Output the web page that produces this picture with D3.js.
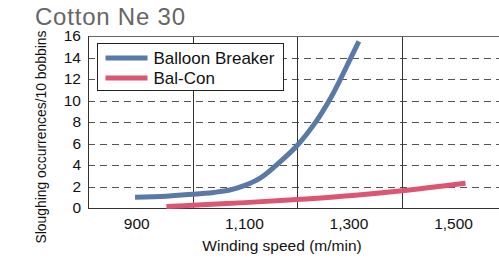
<!DOCTYPE html>
<html>
<head>
<meta charset="utf-8">
<script src="https://cdn.jsdelivr.net/npm/d3@7"></script>
<style>
    body { margin: 0; background: #fff; }
    svg { display: block; font-family: "Liberation Sans", Arial, sans-serif; }
    .axis path { display: none; }
    .axis text { fill: #111; }
</style>
</head>
<body>
<div id="chart"></div>
<script>
// values
const xTicks = [900, 1100, 1300, 1500];
const xGrid = [1000, 1200, 1400];
const yTicks = [0, 2, 4, 6, 8, 10, 12, 14, 16];
const yGrid = [2, 4, 6, 8, 10, 12, 14];

const balloonSpeed = [890, 950, 1000, 1040, 1071, 1100, 1130, 1157, 1200, 1237, 1261, 1281, 1300, 1318];
const balloonValue = [1.0, 1.1, 1.27, 1.45, 1.67, 2.1, 2.8, 3.85, 5.81, 8.1, 9.97, 11.81, 13.71, 15.5];
const balconSpeed = [950, 1000, 1100, 1200, 1300, 1400, 1522];
const balconValue = [0.15, 0.25, 0.5, 0.8, 1.15, 1.6, 2.3];

const seriesNames = ["Balloon Breaker", "Bal-Con"];
const seriesColors = ["#5a79a6", "#dc5571"];

const width = 499, height = 259;
const margin = { top: 36, right: 0, bottom: 51, left: 88 };
const innerW = width - margin.left - margin.right;
const innerH = height - margin.top - margin.bottom;

const svg = d3.select("#chart").append("svg")
    .attr("width", width)
    .attr("height", height);

// title
svg.append("text")
    .attr("x", 35)
    .attr("y", 25)
    .attr("font-size", 24)
    .attr("fill", "#666")
    .attr("textLength", 150)
    .text("Cotton Ne 30");

const g = svg.append("g").attr("transform", `translate(${margin.left},${margin.top})`);

const x = d3.scaleLinear().domain([800, 1586]).range([0, innerW]);
const y = d3.scaleLinear().domain([0, 16]).range([innerH, 0]);

// dashed grid
g.selectAll(".hgrid")
    .data(yGrid)
    .join("line")
    .attr("class", "hgrid")
    .attr("x1", 0)
    .attr("x2", innerW)
    .attr("y1", d => Math.round(y(d)) + 0.5)
    .attr("y2", d => Math.round(y(d)) + 0.5)
    .attr("stroke", "#555")
    .attr("stroke-width", 1)
    .attr("stroke-dasharray", "7,5");

g.selectAll(".vgrid")
    .data(xGrid)
    .join("line")
    .attr("class", "vgrid")
    .attr("x1", d => Math.round(x(d)) + 0.5)
    .attr("x2", d => Math.round(x(d)) + 0.5)
    .attr("y1", 0)
    .attr("y2", innerH)
    .attr("stroke", "#333");

// frame: top, left, bottom
g.append("line").attr("x1", 0).attr("x2", innerW).attr("y1", 0.5).attr("y2", 0.5).attr("stroke", "#666");
g.append("line").attr("x1", 0.5).attr("x2", 0.5).attr("y1", 0).attr("y2", innerH).attr("stroke", "#333");
g.append("line").attr("x1", 0).attr("x2", innerW).attr("y1", innerH + 0.5).attr("y2", innerH + 0.5).attr("stroke", "#333");

// axes
g.append("g")
    .attr("class", "x-axis axis")
    .attr("transform", `translate(0,${innerH})`)
    .call(d3.axisBottom(x).tickValues(xTicks).tickSize(0).tickPadding(10).tickFormat(d3.format(",")))
    .selectAll("text")
    .attr("font-size", 15.5)
    .attr("dx", d => d === 900 ? -4 : -1);

g.append("g")
    .attr("class", "y-axis axis")
    .call(d3.axisLeft(y).tickValues(yTicks).tickSize(0).tickPadding(7))
    .selectAll("text")
    .attr("font-size", 15.5);

// axis titles
svg.append("text")
    .attr("x", 282)
    .attr("y", 251)
    .attr("text-anchor", "middle")
    .attr("font-size", 15.5)
    .attr("fill", "#111")
    .text("Winding speed (m/min)");

svg.append("text")
    .attr("transform", "translate(46,137) rotate(-90)")
    .attr("text-anchor", "middle")
    .attr("font-size", 14)
    .attr("fill", "#111")
    .attr("textLength", 213)
    .attr("lengthAdjust", "spacingAndGlyphs")
    .text("Sloughing occurrences/10 bobbins");

// curves
const series = [
    { name: seriesNames[0], color: seriesColors[0], pts: balloonSpeed.map((s, i) => [s, balloonValue[i]]) },
    { name: seriesNames[1], color: seriesColors[1], pts: balconSpeed.map((s, i) => [s, balconValue[i]]) }
];

const line = d3.line()
    .x(d => x(d[0]))
    .y(d => y(d[1]))
    .curve(d3.curveCatmullRom.alpha(0.5));

g.selectAll(".curve")
    .data(series)
    .join("path")
    .attr("class", "curve")
    .attr("d", d => line(d.pts))
    .attr("fill", "none")
    .attr("stroke", d => d.color)
    .attr("stroke-width", 5);

// legend
const legend = svg.append("g").attr("transform", "translate(97.5,43.5)");
legend.append("rect")
    .attr("width", 186)
    .attr("height", 47)
    .attr("fill", "#fff")
    .attr("stroke", "#222");

series.forEach((s, i) => {
    legend.append("line")
        .attr("x1", 8)
        .attr("x2", 50)
        .attr("y1", 14.5 + i * 20)
        .attr("y2", 14.5 + i * 20)
        .attr("stroke", s.color)
        .attr("stroke-width", 5);
    legend.append("text")
        .attr("x", 56)
        .attr("y", 20.5 + i * 20)
        .attr("font-size", 17)
        .attr("fill", "#111")
        .text(s.name);
});
</script>
</body>
</html>
